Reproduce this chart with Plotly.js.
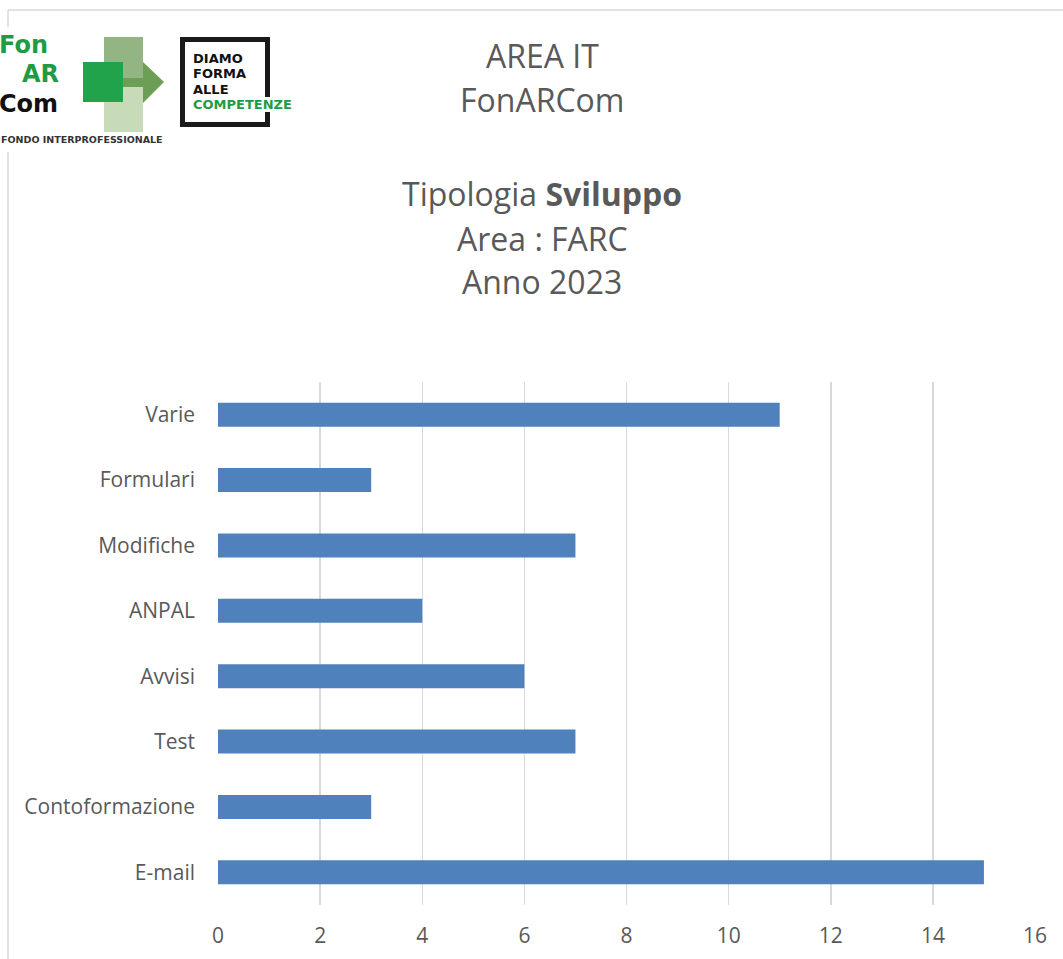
<!DOCTYPE html>
<html>
<head>
<meta charset="utf-8">
<script src="https://cdn.plot.ly/plotly-3.0.1.min.js"></script>
<style>html,body{margin:0;padding:0;background:#fff;}#chart{width:1063px;height:959px;}</style>
</head>
<body>
<div id="chart"></div>
<script>
// Data (bottom to top, as Plotly draws categories)
const categories = ["E-mail", "Contoformazione", "Test", "Avvisi", "ANPAL", "Modifiche", "Formulari", "Varie"];
const values = [15, 3, 7, 6, 4, 7, 3, 11];
const xTicks = [0, 2, 4, 6, 8, 10, 12, 14, 16];
const titleLines = ["AREA IT", "FonARCom", "Tipologia <b>Sviluppo</b>", "Area : FARC", "Anno 2023"];

const W = 1063, H = 959;
const L = 218, R = 1035, T = 382, B = 905;
function X(px) { return (px - L) / (R - L); }
function Y(py) { return (B - py) / (B - T); }

const GREY = "#595959";
const GREEN = "#1f9b45";
const titleFont = "Open Sans, sans-serif";

const shapes = [];
const ann = [];

// outer border lines
shapes.push({type: "line", xref: "paper", yref: "paper", x0: X(8), x1: X(1063), y0: Y(10), y1: Y(10), line: {color: "#d9d9d9", width: 1.5}});
shapes.push({type: "line", xref: "paper", yref: "paper", x0: X(8), x1: X(8), y0: Y(10), y1: Y(959), line: {color: "#d9d9d9", width: 1.5}});
// logo background
shapes.push({type: "rect", xref: "paper", yref: "paper", x0: X(0), x1: X(170), y0: Y(27), y1: Y(152), fillcolor: "#ffffff", line: {width: 0}});
// light squares
shapes.push({type: "rect", xref: "paper", yref: "paper", x0: X(104), x1: X(143), y0: Y(37), y1: Y(79), fillcolor: "#93b583", line: {width: 0}});
shapes.push({type: "rect", xref: "paper", yref: "paper", x0: X(104), x1: X(143), y0: Y(87), y1: Y(132), fillcolor: "#c7dbb9", line: {width: 0}});
// arrow shaft + head
shapes.push({type: "rect", xref: "paper", yref: "paper", x0: X(104), x1: X(144), y0: Y(78), y1: Y(87), fillcolor: "#6c9e55", line: {width: 0}});
shapes.push({type: "path", xref: "paper", yref: "paper",
  path: "M " + X(143) + "," + Y(62) + " L " + X(164) + "," + Y(82) + " L " + X(143) + "," + Y(103) + " Z",
  fillcolor: "#6c9e55", line: {width: 0}});
// dark green square
shapes.push({type: "rect", xref: "paper", yref: "paper", x0: X(83), x1: X(123), y0: Y(62), y1: Y(102), fillcolor: "#21a34b", line: {width: 0}});
// black frame
shapes.push({type: "rect", xref: "paper", yref: "paper", x0: X(182.5), x1: X(267.5), y0: Y(39.5), y1: Y(124.5), fillcolor: "rgba(0,0,0,0)", line: {color: "#1a1a1a", width: 5}});
// gap in frame where the last word passes
shapes.push({type: "rect", xref: "paper", yref: "paper", x0: X(262), x1: X(272), y0: Y(97), y1: Y(112), fillcolor: "#ffffff", line: {width: 0}});

const logoFont = "DejaVu Sans, sans-serif";
function txt(t, px, py, size, color, xanchor, fam) {
  ann.push({text: t, xref: "paper", yref: "paper", x: X(px), y: Y(py), xanchor: xanchor || "left", yanchor: "middle",
    showarrow: false, font: {family: fam || logoFont, size: size, color: color}, borderpad: 0, valign: "middle"});
}
txt("<b>Fon</b>", -2, 45, 24, GREEN, "left");
txt("<b>AR</b>", 21, 74.5, 24, GREEN, "left");
txt("<b>Com</b>", -2, 104, 24, "#111111", "left");
txt("<b>FONDO INTERPROFESSIONALE</b>", 164, 140, 9.5, "#333333", "right");
txt("<b>DIAMO</b>", 192, 58, 13, "#111111", "left");
txt("<b>FORMA</b>", 192, 73.5, 13, "#111111", "left");
txt("<b>ALLE</b>", 192, 89, 13, "#111111", "left");
txt("<b>COMPETENZE</b>", 192, 104.5, 13, GREEN, "left");

// title lines
const titleY = [55, 100, 193, 238, 282];
titleLines.forEach(function (t, i) {
  ann.push({text: t, xref: "paper", yref: "paper", x: X(542), y: Y(titleY[i]), xanchor: "center", yanchor: "middle",
    showarrow: false, font: {family: titleFont, size: 32, color: GREY}});
});

const data = [{
  type: "bar",
  orientation: "h",
  y: categories,
  x: values,
  marker: {color: "#4f81bd", line: {width: 0}},
  hoverinfo: "x+y"
}];

const layout = {
  width: W, height: H,
  margin: {l: L, r: W - R, t: T, b: H - B, pad: 0},
  paper_bgcolor: "#ffffff",
  plot_bgcolor: "#ffffff",
  bargap: 0.633,
  showlegend: false,
  xaxis: {
    range: [0, 16], tickvals: xTicks, ticktext: xTicks.map(String),
    showgrid: true, gridcolor: "#d9d9d9", gridwidth: 1.5, zeroline: false, showline: false,
    ticks: "", ticklabelstandoff: 16,
    tickfont: {family: titleFont, size: 21, color: GREY}, fixedrange: true
  },
  yaxis: {
    type: "category", categoryorder: "array", categoryarray: categories,
    showgrid: false, zeroline: false, showline: false, ticks: "", ticklabelstandoff: 22,
    tickfont: {family: titleFont, size: 21, color: GREY}, fixedrange: true
  },
  shapes: shapes,
  annotations: ann
};

Plotly.newPlot("chart", data, layout, {displayModeBar: false, staticPlot: true});
</script>
</body>
</html>
